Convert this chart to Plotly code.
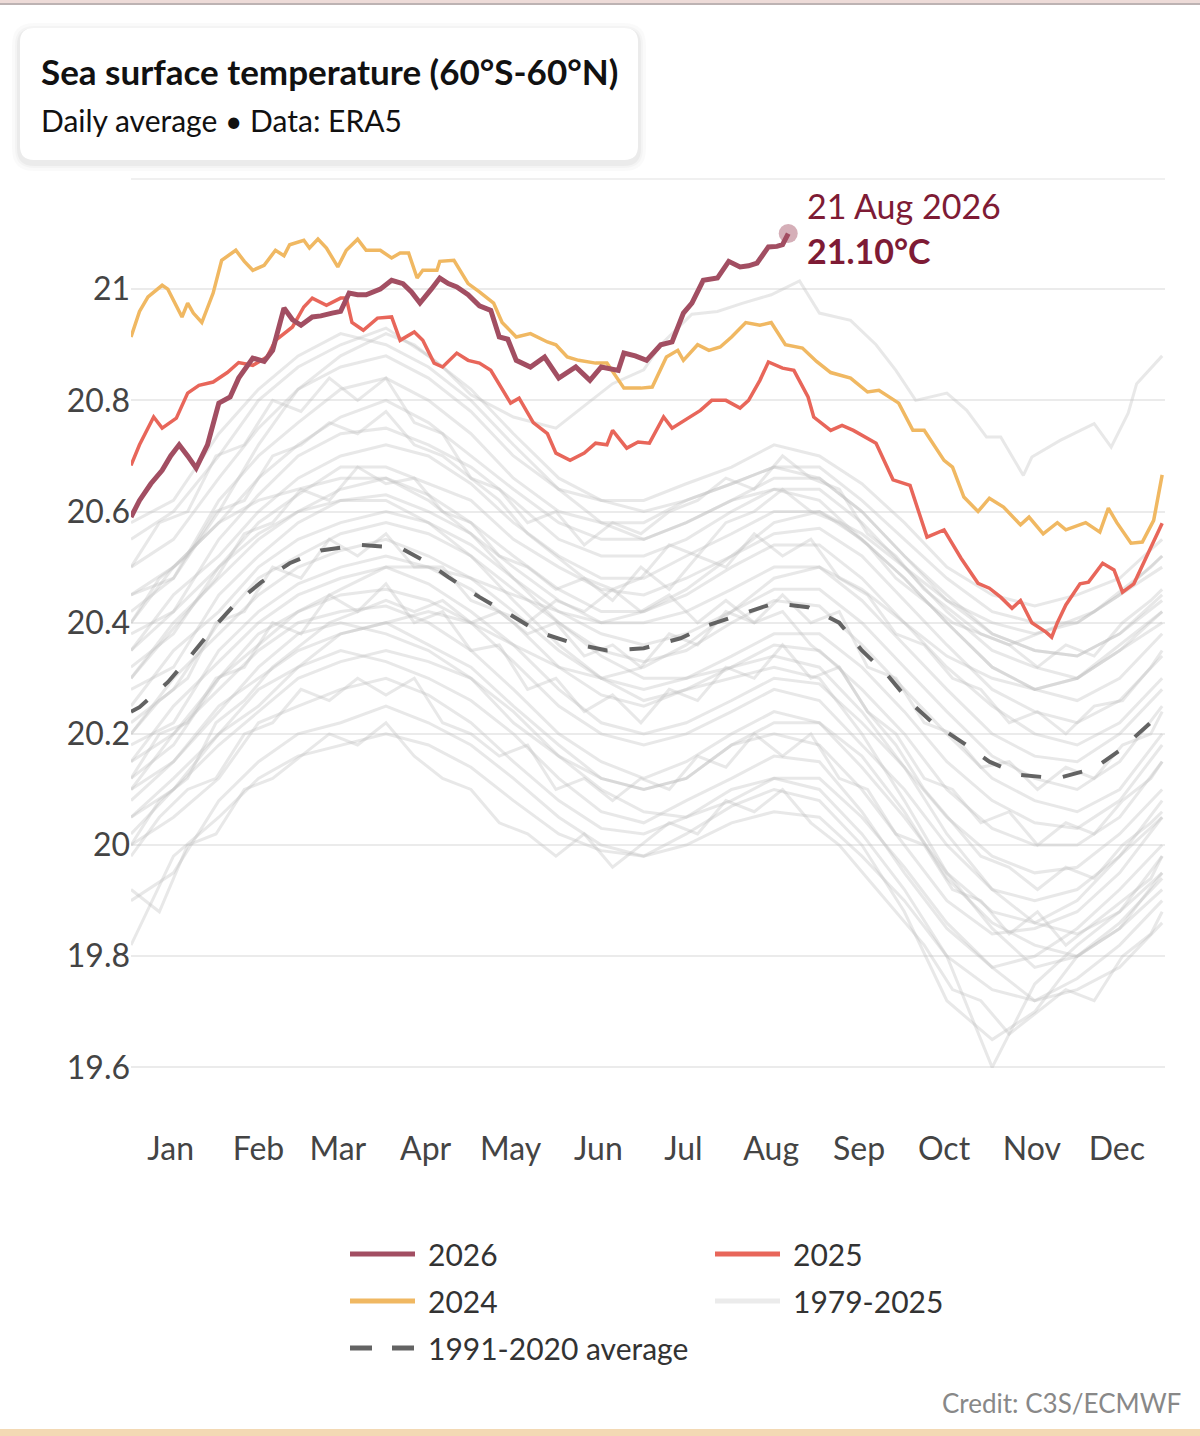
import plotly.graph_objects as go

# ---------------- data ----------------
month_labels = ["Jan", "Feb", "Mar", "Apr", "May", "Jun", "Jul", "Aug", "Sep", "Oct", "Nov", "Dec"]
month_tick_days = [14, 45, 73, 104, 134, 165, 195, 226, 257, 287, 318, 348]
y_tick_vals = [19.6, 19.8, 20.0, 20.2, 20.4, 20.6, 20.8, 21.0, 21.2]
y_tick_text = ["19.6", "19.8", "20", "20.2", "20.4", "20.6", "20.8", "21", ""]

days_2026 = [0, 3, 7, 11, 14, 17, 20, 23, 27, 31, 35, 38, 43, 47, 50, 54, 57, 60, 64, 67, 71, 74, 77, 80, 83,
             88, 92, 96, 99, 102, 106, 109, 112, 115, 119, 123, 127, 130, 133, 136, 141, 146, 151, 154, 157,
             162, 166, 172, 174, 178, 182, 187, 191, 195, 198, 202, 207, 211, 215, 218, 221, 225, 228, 230, 232]
sst_2026 = [20.59, 20.62, 20.65, 20.674, 20.70, 20.72, 20.70, 20.678, 20.72, 20.795, 20.806, 20.84, 20.876,
            20.87, 20.89, 20.966, 20.945, 20.935, 20.95, 20.952, 20.957, 20.96, 20.993, 20.99, 20.99, 21.0,
            21.016, 21.01, 20.995, 20.975, 21.0, 21.02, 21.01, 21.004, 20.99, 20.97, 20.962, 20.914, 20.91,
            20.872, 20.86, 20.878, 20.84, 20.85, 20.86, 20.836, 20.86, 20.854, 20.885, 20.88, 20.872, 20.90,
            20.905, 20.957, 20.975, 21.016, 21.02, 21.05, 21.04, 21.042, 21.047, 21.076, 21.077, 21.08, 21.10]

days_2024 = [0, 3, 6, 11, 13, 15, 18, 20, 22, 25, 29, 32, 37, 40, 43, 47, 51, 54, 56, 61, 63, 66, 69, 73, 76,
             80, 83, 88, 92, 95, 98, 101, 103, 108, 109, 114, 119, 123, 128, 131, 136, 141, 147, 150, 154,
             158, 164, 168, 174, 180, 184, 189, 193, 195, 200, 204, 208, 212, 217, 222, 226, 231, 237, 242,
             247, 254, 260, 264, 271, 276, 280, 287, 290, 294, 299, 303, 308, 314, 317, 322, 327, 330, 337,
             342, 345, 348, 353, 357, 361, 364]
sst_2024 = [20.914, 20.96, 20.986, 21.007, 21.0, 20.98, 20.95, 20.975, 20.957, 20.94, 20.993, 21.052, 21.07,
            21.05, 21.034, 21.043, 21.07, 21.06, 21.08, 21.088, 21.074, 21.09, 21.074, 21.04, 21.07, 21.09,
            21.07, 21.07, 21.056, 21.065, 21.065, 21.02, 21.034, 21.034, 21.05, 21.052, 21.01, 20.995, 20.975,
            20.94, 20.914, 20.92, 20.905, 20.90, 20.878, 20.872, 20.867, 20.867, 20.822, 20.822, 20.824,
            20.878, 20.89, 20.872, 20.90, 20.89, 20.896, 20.914, 20.94, 20.935, 20.94, 20.90, 20.894, 20.87,
            20.85, 20.84, 20.815, 20.818, 20.795, 20.746, 20.746, 20.692, 20.68, 20.626, 20.60, 20.624,
            20.608, 20.576, 20.59, 20.56, 20.58, 20.567, 20.58, 20.563, 20.606, 20.58, 20.543, 20.545,
            20.584, 20.666]

days_2025 = [0, 3, 8, 11, 16, 20, 24, 29, 34, 38, 43, 48, 51, 57, 61, 64, 69, 74, 76, 78, 82, 87, 92, 95, 100,
             103, 107, 110, 115, 119, 123, 127, 134, 137, 142, 147, 150, 155, 160, 164, 168, 170, 175, 179,
             183, 188, 191, 197, 201, 205, 210, 215, 218, 222, 225, 230, 234, 239, 241, 247, 251, 255, 263,
             269, 275, 281, 287, 293, 299, 303, 307, 311, 314, 318, 323, 325, 327, 330, 335, 338, 343, 347,
             350, 354, 359, 364]
sst_2025 = [20.683, 20.72, 20.77, 20.75, 20.768, 20.813, 20.827, 20.833, 20.85, 20.868, 20.863, 20.878,
            20.908, 20.932, 20.968, 20.984, 20.971, 20.984, 20.984, 20.94, 20.926, 20.948, 20.95, 20.908,
            20.923, 20.908, 20.867, 20.86, 20.885, 20.872, 20.867, 20.854, 20.795, 20.804, 20.76, 20.74,
            20.705, 20.692, 20.705, 20.723, 20.72, 20.746, 20.714, 20.725, 20.723, 20.77, 20.75, 20.77,
            20.782, 20.80, 20.80, 20.786, 20.80, 20.836, 20.869, 20.858, 20.854, 20.806, 20.77, 20.746,
            20.755, 20.746, 20.723, 20.657, 20.647, 20.554, 20.567, 20.516, 20.471, 20.462, 20.446, 20.426,
            20.44, 20.40, 20.383, 20.374, 20.40, 20.432, 20.47, 20.473, 20.507, 20.495, 20.455, 20.47,
            20.525, 20.579]

days_avg = [0, 3, 13, 21, 29, 37, 46, 56, 67, 81, 95, 105, 112, 123, 134, 144, 156, 168, 181, 194, 204, 216,
            227, 239, 250, 258, 267, 275, 283, 294, 303, 314, 327, 340, 349, 359, 364]
sst_avg = [20.24, 20.248, 20.293, 20.34, 20.39, 20.435, 20.473, 20.507, 20.53, 20.54, 20.535, 20.507, 20.482,
           20.446, 20.414, 20.383, 20.363, 20.35, 20.354, 20.372, 20.396, 20.417, 20.435, 20.428, 20.40,
           20.35, 20.306, 20.257, 20.22, 20.183, 20.15, 20.126, 20.12, 20.138, 20.17, 20.216, 20.24]

days_2023 = [0, 15, 31, 45, 59, 74, 90, 100, 110, 120, 135, 150, 160, 170, 181, 187, 198, 207, 216, 226, 236,
             243, 254, 263, 270, 277, 288, 295, 302, 307, 315, 318, 328, 340, 346, 352, 355, 364]
sst_2023 = [20.42, 20.48, 20.60, 20.72, 20.82, 20.88, 20.92, 20.90, 20.86, 20.81, 20.77, 20.75, 20.79, 20.83,
            20.855, 20.90, 20.955, 20.96, 20.975, 20.99, 21.015, 20.957, 20.944, 20.90, 20.854, 20.80,
            20.813, 20.782, 20.734, 20.734, 20.665, 20.698, 20.728, 20.758, 20.716, 20.777, 20.83, 20.88]

grey_days = [0, 15, 31, 45, 59, 74, 90, 105, 120, 135, 151, 166, 181, 196, 212, 227, 243, 258, 273, 288, 304,
             319, 334, 349, 364]
grey_lines = [
    [19.82, 19.98, 20.05, 20.12, 20.16, 20.18, 20.20, 20.18, 20.14, 20.08, 20.02, 19.99, 19.98, 20.00, 20.04, 20.06, 20.05, 19.98, 19.90, 19.80, 19.74, 19.72, 19.74, 19.78, 19.86],
    [19.90, 19.95, 20.08, 20.15, 20.20, 20.22, 20.25, 20.22, 20.18, 20.12, 20.05, 20.00, 19.98, 20.02, 20.07, 20.10, 20.08, 20.00, 19.88, 19.72, 19.65, 19.70, 19.80, 19.85, 19.95],
    [20.00, 20.05, 20.12, 20.22, 20.25, 20.28, 20.30, 20.27, 20.22, 20.15, 20.08, 20.03, 20.02, 20.05, 20.10, 20.12, 20.10, 20.02, 19.92, 19.80, 19.60, 19.75, 19.82, 19.88, 19.98],
    [20.05, 20.10, 20.20, 20.25, 20.32, 20.35, 20.33, 20.30, 20.26, 20.20, 20.12, 20.06, 20.04, 20.08, 20.12, 20.16, 20.15, 20.06, 19.95, 19.85, 19.78, 19.80, 19.85, 19.92, 20.00],
    [20.08, 20.15, 20.25, 20.30, 20.35, 20.38, 20.40, 20.36, 20.32, 20.25, 20.18, 20.12, 20.10, 20.12, 20.18, 20.20, 20.18, 20.10, 20.00, 19.90, 19.84, 19.85, 19.88, 19.95, 20.05],
    [20.10, 20.20, 20.28, 20.35, 20.40, 20.42, 20.43, 20.40, 20.35, 20.28, 20.20, 20.15, 20.12, 20.15, 20.20, 20.24, 20.22, 20.14, 20.05, 19.95, 19.88, 19.86, 19.90, 19.98, 20.08],
    [20.12, 20.18, 20.30, 20.38, 20.42, 20.45, 20.46, 20.44, 20.40, 20.33, 20.25, 20.20, 20.18, 20.20, 20.24, 20.28, 20.26, 20.18, 20.10, 20.00, 19.92, 19.90, 19.92, 19.98, 20.05],
    [20.15, 20.25, 20.33, 20.40, 20.45, 20.48, 20.50, 20.47, 20.42, 20.36, 20.28, 20.22, 20.20, 20.22, 20.26, 20.30, 20.29, 20.22, 20.14, 20.05, 19.98, 19.95, 19.96, 20.02, 20.10],
    [20.18, 20.22, 20.35, 20.42, 20.47, 20.50, 20.52, 20.50, 20.46, 20.40, 20.32, 20.27, 20.25, 20.28, 20.32, 20.36, 20.35, 20.28, 20.20, 20.10, 20.03, 20.00, 20.00, 20.05, 20.15],
    [20.20, 20.30, 20.38, 20.45, 20.50, 20.53, 20.55, 20.52, 20.48, 20.42, 20.35, 20.30, 20.28, 20.30, 20.34, 20.38, 20.38, 20.32, 20.24, 20.15, 20.08, 20.04, 20.03, 20.08, 20.18],
    [20.22, 20.28, 20.40, 20.48, 20.52, 20.56, 20.58, 20.56, 20.52, 20.46, 20.40, 20.35, 20.33, 20.35, 20.40, 20.44, 20.43, 20.36, 20.28, 20.20, 20.12, 20.08, 20.06, 20.10, 20.20],
    [20.25, 20.35, 20.42, 20.50, 20.55, 20.58, 20.60, 20.58, 20.54, 20.48, 20.42, 20.38, 20.36, 20.38, 20.42, 20.46, 20.46, 20.40, 20.32, 20.24, 20.16, 20.12, 20.10, 20.15, 20.25],
    [20.28, 20.32, 20.45, 20.52, 20.58, 20.62, 20.63, 20.60, 20.56, 20.50, 20.44, 20.40, 20.40, 20.42, 20.46, 20.50, 20.50, 20.44, 20.36, 20.28, 20.20, 20.16, 20.15, 20.20, 20.28],
    [20.30, 20.40, 20.48, 20.55, 20.60, 20.64, 20.66, 20.63, 20.58, 20.52, 20.46, 20.42, 20.42, 20.45, 20.50, 20.54, 20.54, 20.48, 20.40, 20.32, 20.25, 20.20, 20.18, 20.22, 20.30],
    [20.32, 20.38, 20.50, 20.58, 20.63, 20.68, 20.68, 20.65, 20.62, 20.55, 20.50, 20.46, 20.45, 20.48, 20.52, 20.56, 20.57, 20.52, 20.44, 20.36, 20.28, 20.24, 20.22, 20.26, 20.34],
    [20.35, 20.45, 20.52, 20.60, 20.66, 20.70, 20.72, 20.70, 20.65, 20.58, 20.52, 20.48, 20.48, 20.52, 20.56, 20.60, 20.60, 20.55, 20.48, 20.40, 20.32, 20.28, 20.26, 20.30, 20.38],
    [20.38, 20.42, 20.55, 20.63, 20.70, 20.74, 20.75, 20.72, 20.68, 20.62, 20.55, 20.52, 20.52, 20.55, 20.60, 20.64, 20.64, 20.58, 20.50, 20.42, 20.35, 20.32, 20.30, 20.35, 20.42],
    [20.40, 20.50, 20.58, 20.66, 20.72, 20.77, 20.80, 20.76, 20.70, 20.64, 20.58, 20.55, 20.55, 20.58, 20.62, 20.66, 20.66, 20.60, 20.52, 20.45, 20.38, 20.35, 20.34, 20.38, 20.45],
    [20.45, 20.48, 20.62, 20.70, 20.76, 20.82, 20.84, 20.80, 20.74, 20.66, 20.60, 20.58, 20.58, 20.62, 20.65, 20.68, 20.68, 20.62, 20.55, 20.48, 20.42, 20.40, 20.40, 20.45, 20.50],
    [20.50, 20.55, 20.66, 20.75, 20.82, 20.86, 20.88, 20.84, 20.78, 20.70, 20.64, 20.62, 20.62, 20.65, 20.68, 20.72, 20.70, 20.65, 20.58, 20.50, 20.45, 20.43, 20.45, 20.48, 20.55],
    [20.55, 20.60, 20.70, 20.80, 20.86, 20.90, 20.93, 20.88, 20.82, 20.74, 20.66, 20.62, 20.60, 20.62, 20.65, 20.68, 20.66, 20.60, 20.52, 20.44, 20.38, 20.35, 20.34, 20.38, 20.44],
    [20.58, 20.62, 20.74, 20.82, 20.88, 20.92, 20.90, 20.86, 20.80, 20.72, 20.64, 20.58, 20.55, 20.58, 20.62, 20.64, 20.62, 20.55, 20.48, 20.40, 20.32, 20.28, 20.30, 20.35, 20.40],
    [20.05, 20.12, 20.20, 20.28, 20.32, 20.38, 20.40, 20.42, 20.40, 20.36, 20.32, 20.30, 20.32, 20.36, 20.42, 20.48, 20.50, 20.46, 20.40, 20.34, 20.30, 20.28, 20.30, 20.36, 20.42],
    [20.15, 20.20, 20.30, 20.36, 20.42, 20.46, 20.50, 20.50, 20.48, 20.45, 20.42, 20.40, 20.42, 20.46, 20.52, 20.58, 20.60, 20.56, 20.50, 20.44, 20.40, 20.38, 20.40, 20.45, 20.52],
    [20.45, 20.50, 20.58, 20.62, 20.64, 20.66, 20.66, 20.62, 20.56, 20.48, 20.40, 20.34, 20.30, 20.30, 20.32, 20.34, 20.32, 20.24, 20.14, 20.02, 19.92, 19.86, 19.84, 19.88, 19.95],
    [20.35, 20.42, 20.50, 20.56, 20.60, 20.62, 20.62, 20.58, 20.52, 20.44, 20.36, 20.30, 20.26, 20.28, 20.30, 20.32, 20.30, 20.20, 20.08, 19.95, 19.85, 19.78, 19.80, 19.85, 19.92],
    [20.10, 20.15, 20.24, 20.32, 20.38, 20.40, 20.38, 20.35, 20.30, 20.24, 20.16, 20.10, 20.06, 20.05, 20.08, 20.12, 20.12, 20.05, 19.96, 19.86, 19.78, 19.72, 19.76, 19.82, 19.90],
    [20.02, 20.10, 20.18, 20.24, 20.30, 20.33, 20.35, 20.33, 20.30, 20.22, 20.16, 20.12, 20.10, 20.12, 20.18, 20.22, 20.22, 20.16, 20.06, 19.94, 19.86, 19.82, 19.80, 19.86, 19.94],
]

grey_days_fine = [0, 10, 20, 30, 40, 50, 60, 70, 80, 90, 100, 110, 120, 130, 140, 150, 160, 170, 180, 190, 200,
                  210, 220, 230, 240, 250, 260, 270, 280, 290, 300, 310, 320, 330, 340, 350, 360, 364]
grey_lines_fine = [
    [19.98, 20.05, 20.10, 20.12, 20.20, 20.22, 20.28, 20.26, 20.30, 20.27, 20.30, 20.22, 20.20, 20.16, 20.18, 20.10, 20.12, 20.08, 20.12, 20.10, 20.16, 20.14, 20.20, 20.16, 20.20, 20.12, 20.10, 20.02, 20.00, 19.92, 19.90, 19.84, 19.88, 19.82, 19.86, 19.90, 19.94, 19.98],
    [20.12, 20.20, 20.22, 20.30, 20.32, 20.40, 20.38, 20.45, 20.42, 20.47, 20.40, 20.42, 20.35, 20.36, 20.28, 20.30, 20.24, 20.27, 20.22, 20.28, 20.26, 20.32, 20.30, 20.36, 20.30, 20.32, 20.24, 20.20, 20.12, 20.10, 20.04, 20.06, 20.00, 20.04, 20.02, 20.08, 20.12, 20.15],
    [20.30, 20.36, 20.42, 20.48, 20.56, 20.58, 20.64, 20.62, 20.68, 20.65, 20.66, 20.60, 20.58, 20.52, 20.50, 20.46, 20.48, 20.44, 20.50, 20.46, 20.52, 20.50, 20.56, 20.52, 20.55, 20.48, 20.45, 20.38, 20.36, 20.30, 20.28, 20.22, 20.24, 20.20, 20.25, 20.26, 20.32, 20.35],
    [20.40, 20.48, 20.52, 20.60, 20.62, 20.70, 20.72, 20.76, 20.74, 20.78, 20.72, 20.70, 20.66, 20.64, 20.58, 20.60, 20.54, 20.58, 20.56, 20.60, 20.62, 20.66, 20.64, 20.70, 20.66, 20.64, 20.56, 20.52, 20.46, 20.42, 20.38, 20.36, 20.32, 20.36, 20.34, 20.40, 20.44, 20.46],
    [19.92, 19.88, 20.00, 20.02, 20.10, 20.12, 20.16, 20.20, 20.18, 20.22, 20.16, 20.12, 20.10, 20.04, 20.02, 19.98, 20.02, 19.96, 20.00, 20.04, 20.02, 20.08, 20.06, 20.10, 20.04, 20.00, 19.94, 19.88, 19.82, 19.74, 19.72, 19.66, 19.70, 19.74, 19.72, 19.80, 19.84, 19.88],
    [20.20, 20.26, 20.30, 20.40, 20.42, 20.50, 20.48, 20.55, 20.52, 20.56, 20.50, 20.50, 20.44, 20.42, 20.38, 20.40, 20.34, 20.36, 20.32, 20.38, 20.36, 20.42, 20.40, 20.45, 20.40, 20.42, 20.32, 20.30, 20.22, 20.20, 20.14, 20.15, 20.10, 20.14, 20.12, 20.18, 20.20, 20.24],
    [20.50, 20.58, 20.60, 20.70, 20.72, 20.80, 20.78, 20.84, 20.80, 20.84, 20.76, 20.74, 20.66, 20.62, 20.56, 20.52, 20.48, 20.46, 20.42, 20.45, 20.40, 20.44, 20.40, 20.42, 20.36, 20.32, 20.24, 20.18, 20.10, 20.04, 19.98, 19.96, 19.92, 19.96, 19.94, 20.00, 20.04, 20.06],
    [20.00, 20.08, 20.12, 20.22, 20.26, 20.32, 20.36, 20.40, 20.42, 20.44, 20.42, 20.44, 20.40, 20.42, 20.40, 20.44, 20.42, 20.46, 20.48, 20.54, 20.52, 20.58, 20.60, 20.64, 20.60, 20.58, 20.54, 20.48, 20.44, 20.40, 20.38, 20.36, 20.38, 20.40, 20.42, 20.46, 20.50, 20.52],
]

legend_labels = ["2026", "2025", "2024", "1979-2025", "1991-2020 average"]

last_day = 232
last_value = 21.10
last_label = "21 Aug 2026"
last_value_label = "21.10°C"

# ---------------- styling ----------------
W, H = 1200, 1436
ML, MR, MT, MB = 131, 35, 178, 313
PW = W - ML - MR
PH = H - MT - MB
FONT = "Lato, 'Open Sans', sans-serif"

C2026 = "#a24e62"
C2025 = "#e8665a"
C2024 = "#f0b862"
CGREY = "rgba(190,190,190,0.36)"
CGREY_LEG = "#ebebeb"
CAVG = "#636363"
CANNO = "#7e1b35"


def px(x):
    return (x - ML) / PW


def py(y):
    return (H - MB - y) / PH


def rounded_rect(x0, y0, x1, y1, r):
    pts = [
        ("M", [(x0 + r, y0)]), ("L", [(x1 - r, y0)]), ("Q", [(x1, y0), (x1, y0 + r)]),
        ("L", [(x1, y1 - r)]), ("Q", [(x1, y1), (x1 - r, y1)]), ("L", [(x0 + r, y1)]),
        ("Q", [(x0, y1), (x0, y1 - r)]), ("L", [(x0, y0 + r)]), ("Q", [(x0, y0), (x0 + r, y0)]),
    ]
    s = ""
    for cmd, ps in pts:
        s += cmd + " " + " ".join(f"{px(a):.5f},{py(b):.5f}" for a, b in ps) + " "
    return s + "Z"


fig = go.Figure()

for vals in grey_lines:
    fig.add_trace(go.Scatter(x=grey_days, y=vals, mode="lines", name="1979-2025", showlegend=False,
                             hoverinfo="skip", line=dict(color=CGREY, width=3)))
for vals in grey_lines_fine:
    fig.add_trace(go.Scatter(x=grey_days_fine, y=vals, mode="lines", name="1979-2025", showlegend=False,
                             hoverinfo="skip", line=dict(color=CGREY, width=3)))
fig.add_trace(go.Scatter(x=days_2023, y=sst_2023, mode="lines", name="1979-2025", showlegend=False,
                         hoverinfo="skip", line=dict(color=CGREY, width=3)))

fig.add_trace(go.Scatter(x=days_avg, y=sst_avg, mode="lines", name="1991-2020 average", showlegend=False,
                         line=dict(color=CAVG, width=4, dash="20px,22px")))
fig.add_trace(go.Scatter(x=days_2024, y=sst_2024, mode="lines", name="2024", showlegend=False,
                         line=dict(color=C2024, width=3.5)))
fig.add_trace(go.Scatter(x=days_2025, y=sst_2025, mode="lines", name="2025", showlegend=False,
                         line=dict(color=C2025, width=3.5)))
fig.add_trace(go.Scatter(x=days_2026, y=sst_2026, mode="lines", name="2026", showlegend=False,
                         line=dict(color=C2026, width=5)))
fig.add_trace(go.Scatter(x=[last_day], y=[last_value], mode="markers", showlegend=False, hoverinfo="skip",
                         marker=dict(size=19, color="rgba(162,78,98,0.45)", line_width=0)))

shapes = []
# page strips
shapes.append(dict(type="rect", xref="paper", yref="paper", x0=px(0), x1=px(W), y0=py(0), y1=py(3),
                   fillcolor="#eddbd8", line_width=0, layer="below"))
shapes.append(dict(type="rect", xref="paper", yref="paper", x0=px(0), x1=px(W), y0=py(3), y1=py(5),
                   fillcolor="#bdb3b3", line_width=0, layer="below"))
shapes.append(dict(type="rect", xref="paper", yref="paper", x0=px(0), x1=px(W), y0=py(1429), y1=py(H),
                   fillcolor="#f3d9b4", line_width=0, layer="below"))
# top border line of the plot area (21.2 level)
shapes.append(dict(type="line", xref="paper", yref="paper", x0=0, x1=1, y0=py(179), y1=py(179),
                   line=dict(color="#ebebeb", width=1.5), layer="below"))
# title card shadow + card
for k, a in [(8, 0.018), (5, 0.025), (3, 0.035)]:
    shapes.append(dict(type="path", xref="paper", yref="paper",
                       path=rounded_rect(20 - k, 28 - k + 3, 638 + k, 160 + k + 3, 14 + k),
                       fillcolor=f"rgba(0,0,0,{a})", line_width=0, layer="below"))
shapes.append(dict(type="path", xref="paper", yref="paper", path=rounded_rect(20, 28, 638, 160, 14),
                   fillcolor="white", line_width=0, layer="below"))

# legend (drawn manually: two columns)
leg_items = [
    (legend_labels[0], C2026, None, 350, 1254),
    (legend_labels[1], C2025, None, 715, 1254),
    (legend_labels[2], C2024, None, 350, 1301),
    (legend_labels[3], CGREY_LEG, None, 715, 1301),
    (legend_labels[4], CAVG, "dash", 350, 1348),
]
annotations = []
for label, col, dash, lx, ly in leg_items:
    if dash:
        for a, b in [(350, 372), (392, 414)]:
            shapes.append(dict(type="line", xref="paper", yref="paper", x0=px(a), x1=px(b),
                               y0=py(ly), y1=py(ly), line=dict(color=col, width=5)))
    else:
        shapes.append(dict(type="line", xref="paper", yref="paper", x0=px(lx), x1=px(lx + 65),
                           y0=py(ly), y1=py(ly), line=dict(color=col, width=5)))
    annotations.append(dict(xref="paper", yref="paper", x=px(lx + 76), y=py(ly), xanchor="left",
                            yanchor="middle", text=label, showarrow=False,
                            font=dict(family=FONT, size=30, color="#333")))

annotations += [
    dict(xref="paper", yref="paper", x=px(39), y=py(71), xanchor="left", yanchor="middle",
         text="<b>Sea surface temperature (60°S-60°N)</b>", showarrow=False,
         font=dict(family=FONT, size=35, color="#111")),
    dict(xref="paper", yref="paper", x=px(39), y=py(120), xanchor="left", yanchor="middle",
         text="Daily average • Data: ERA5", showarrow=False,
         font=dict(family=FONT, size=30, color="#111")),
    dict(x=last_day, y=last_value, xref="x", yref="y", xanchor="left", yanchor="middle",
         xshift=17, yshift=28, text=last_label, showarrow=False,
         font=dict(family=FONT, size=34, color=CANNO)),
    dict(x=last_day, y=last_value, xref="x", yref="y", xanchor="left", yanchor="middle",
         xshift=17, yshift=-17, text="<b>" + last_value_label + "</b>", showarrow=False,
         font=dict(family=FONT, size=34, color=CANNO)),
    dict(xref="paper", yref="paper", x=px(1183), y=py(1403), xanchor="right", yanchor="middle",
         text="Credit: C3S/ECMWF", showarrow=False,
         font=dict(family=FONT, size=26, color="#888")),
]

fig.update_layout(
    width=W, height=H,
    margin=dict(l=ML, r=MR, t=MT, b=MB, pad=0),
    paper_bgcolor="white", plot_bgcolor="white",
    font=dict(family=FONT, size=32, color="#444"),
    showlegend=False,
    xaxis=dict(range=[0, 365], tickvals=month_tick_days, ticktext=month_labels,
               showgrid=False, zeroline=False, showline=False, ticks="", ticklabelstandoff=4,
               tickfont=dict(family=FONT, size=32, color="#444")),
    yaxis=dict(range=[19.5, 21.2], tickvals=y_tick_vals, ticktext=y_tick_text,
               showgrid=True, gridcolor="#ebebeb", gridwidth=1.5, zeroline=False,
               showline=False, ticks="", tickfont=dict(family=FONT, size=32, color="#444")),
    shapes=shapes, annotations=annotations,
)

fig.write_html("out.html", config={"displayModeBar": False},
               post_script="document.body.style.margin='0';document.body.style.overflow='hidden';"
                           "document.documentElement.style.overflow='hidden';")
